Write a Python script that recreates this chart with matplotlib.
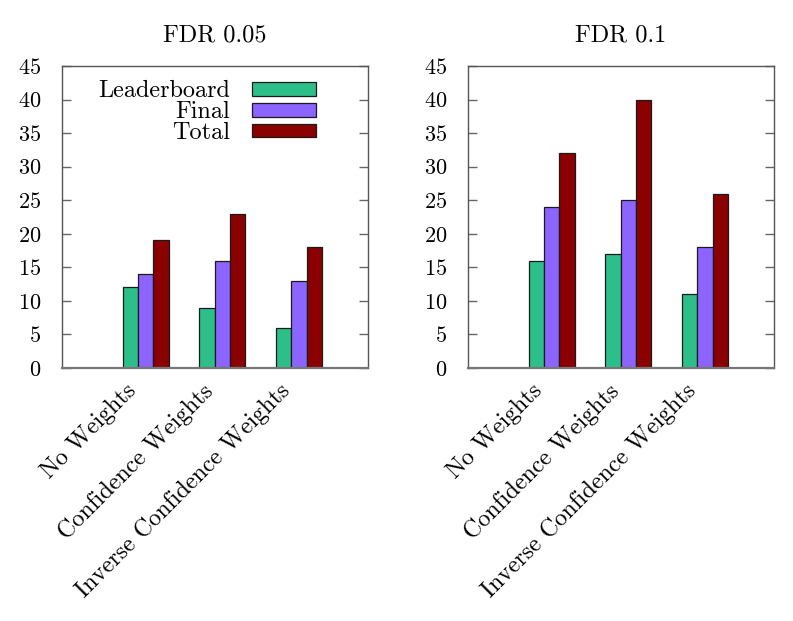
import matplotlib as mpl
mpl.use('agg')
import matplotlib.pyplot as plt
import matplotlib.transforms as mtransforms
import numpy as np

plt.rc('font', family='cmr10')
plt.rcParams['axes.formatter.use_mathtext'] = True

methods = ["No Weights", "Confidence Weights", "Inverse Confidence Weights"]
series = ["Leaderboard", "Final", "Total"]
colors = ["#2dbf8a", "#8c64ff", "#8b0000"]

fdr_005 = {"Leaderboard": [12, 9, 6],
           "Final": [14, 16, 13],
           "Total": [19, 23, 18]}
fdr_01 = {"Leaderboard": [16, 17, 11],
          "Final": [24, 25, 18],
          "Total": [32, 40, 26]}

panels = [("FDR 0.05", fdr_005), ("FDR 0.1", fdr_01)]

fig = plt.figure(figsize=(7.93, 6.21), dpi=100)
lefts = [62 / 793, 468 / 793]
bw = 0.2
x = np.arange(len(methods))

for i, (title, data) in enumerate(panels):
    ax = fig.add_axes([lefts[i], 253 / 621, 306 / 793, 302 / 621])
    for j, s in enumerate(series):
        ax.bar(x + (j - 1) * bw, data[s], bw, color=colors[j],
               edgecolor='#1a1a1a', linewidth=0.9, label=s, zorder=2)
    ax.set_xlim(-1.09, 2.9)
    ax.set_ylim(0, 45)
    ax.set_yticks(np.arange(0, 46, 5))
    ax.tick_params(axis='y', direction='in', length=6.5, width=1.0,
                   color='#666666', left=True, right=True, labelsize=16, pad=15)
    ax.set_xticks(x)
    ax.set_xticklabels(methods, rotation=45, ha='right', va='top',
                       rotation_mode='anchor', fontsize=17.3)
    ax.tick_params(axis='x', length=0, pad=8.5)
    offset = mtransforms.ScaledTranslation(-0.2, 0, fig.dpi_scale_trans)
    for lab in ax.get_xticklabels():
        lab.set_transform(lab.get_transform() + offset)
    for sp in ax.spines.values():
        sp.set_color('#555555')
        sp.set_linewidth(1.0)
    ax.spines['bottom'].set_linewidth(1.6)
    ax.spines['bottom'].set_color('#777777')
    ax.set_title(title, fontsize=17.5, pad=18)
    if i == 0:
        ax.legend(loc='upper right', bbox_to_anchor=(0.83, 0.953),
                  markerfirst=False, frameon=False, fontsize=17.5,
                  handlelength=2.65, handleheight=0.5, handletextpad=0.9,
                  labelspacing=-0.05, borderpad=0, borderaxespad=0)

fig.savefig('out.png', dpi=100)
